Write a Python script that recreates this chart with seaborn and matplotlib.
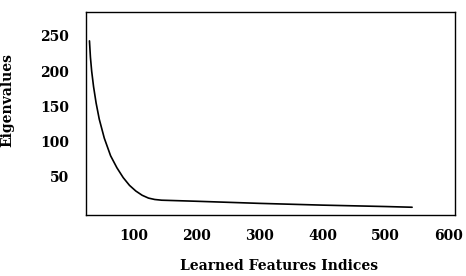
import matplotlib
matplotlib.use("Agg")
import matplotlib.pyplot as plt
import seaborn as sns
import pandas as pd

# Data
feature_index = [30.5, 32, 34, 37, 41, 46, 54, 64, 74, 84, 94, 104, 114, 124, 134, 145,
                 200, 300, 400, 500, 542]
eigenvalues = [243, 220, 200, 178, 155, 132, 105, 80, 63, 49, 38, 30, 24, 20, 18, 17,
               15.5, 12.5, 10, 8, 7]
x_ticks = [100, 200, 300, 400, 500, 600]
y_ticks = [50, 100, 150, 200, 250]

sns.set_style("white")
plt.rcParams['font.family'] = ['DejaVu Serif', 'Liberation Serif']
plt.rcParams['text.color'] = 'black'
plt.rcParams['xtick.color'] = 'black'
plt.rcParams['ytick.color'] = 'black'

df = pd.DataFrame({"idx": feature_index, "eig": eigenvalues})

fig = plt.figure(figsize=(4.66, 2.76), dpi=100)
ax = fig.add_axes([86/466, 1-215/276, (455-86)/466, (215-12)/276])
sns.lineplot(data=df, x="idx", y="eig", ax=ax, color="black", linewidth=1.2)

ax.set_xlim(25, 610)
ax.set_ylim(-4, 284)
ax.set_xticks(x_ticks)
ax.set_yticks(y_ticks)
ax.set_xticklabels([str(t) for t in x_ticks], fontsize=10, fontweight="bold", color="black")
ax.set_yticklabels([str(t) for t in y_ticks], fontsize=10, fontweight="bold", color="black")
ax.tick_params(axis="both", length=0)
ax.tick_params(axis="x", pad=10)
ax.tick_params(axis="y", pad=12)
for s in ax.spines.values():
    s.set_color("black")
    s.set_linewidth(1.0)
    s.set_visible(True)

ax.set_xlabel("")
ax.set_ylabel("")
fig.text(279/466, 1-266/276, "Learned Features Indices", ha="center", va="center",
         fontsize=10, fontweight="bold", color="black")
fig.text(7/466, 1-100/276, "Eigenvalues", ha="center", va="center", rotation=90,
         fontsize=10, fontweight="bold", color="black")

fig.savefig("out.png", dpi=100)
